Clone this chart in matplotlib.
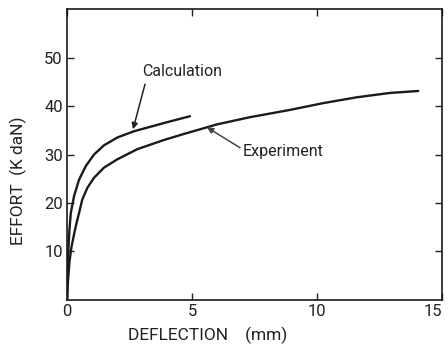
import matplotlib
matplotlib.use("Agg")
import matplotlib.pyplot as plt

# values (deflection in mm, effort in K daN)
calcDeflection = [0.0, 0.02, 0.05, 0.09, 0.15, 0.28, 0.48, 0.75, 1.08, 1.48, 2.01, 2.68, 3.32, 3.88, 4.4, 4.92]
calcEffort = [0.0, 5.0, 10.0, 14.0, 17.9, 21.4, 24.8, 27.6, 30.0, 31.9, 33.5, 34.8, 35.7, 36.5, 37.2, 37.9]

expDeflection = [0.0, 0.04, 0.1, 0.18, 0.3, 0.4, 0.48, 0.61, 0.81, 1.08, 1.48, 2.01, 2.81, 3.88,
                 4.65, 5.99, 7.32, 8.92, 10.25, 11.59, 12.92, 14.05]
expEffort = [0.0, 4.0, 8.0, 11.0, 14.0, 16.3, 17.9, 20.7, 23.1, 25.2, 27.3, 29.0, 31.1, 33.0,
             34.2, 36.2, 37.7, 39.2, 40.6, 41.8, 42.7, 43.1]

xTicks = [0, 5, 10, 15]
yTicks = [10, 20, 30, 40, 50]

plt.rcParams['font.family'] = ['Roboto', 'DejaVu Sans']

fig = plt.figure(figsize=(4.48, 3.48), dpi=100)
ax = fig.add_axes([0.1496, 0.138, 0.837, 0.836])

ax.plot(calcDeflection, calcEffort, color='#1a1a1a', linewidth=1.7,
        solid_joinstyle='round', solid_capstyle='round')
ax.plot(expDeflection, expEffort, color='#1a1a1a', linewidth=1.7,
        solid_joinstyle='round', solid_capstyle='round')

ax.text(4.6, 47.2, "Calculation", ha='center', va='center', fontsize=11.5, color='#222222')
ax.annotate("", xy=(2.64, 35.2), xytext=(3.12, 44.5),
            arrowprops=dict(arrowstyle='-|>', color='#222222', lw=1.1,
                            mutation_scale=9, shrinkA=0, shrinkB=0))
ax.text(8.64, 30.6, "Experiment", ha='center', va='center', fontsize=11.5, color='#222222')
ax.annotate("", xy=(5.6, 35.6), xytext=(6.92, 31.4),
            arrowprops=dict(arrowstyle='-|>', color='#444444', lw=1.1,
                            mutation_scale=9, shrinkA=0, shrinkB=0))

ax.set_xlim(0, 15)
ax.set_ylim(0, 60)
ax.set_xticks(xTicks)
ax.set_yticks(yTicks)
ax.tick_params(direction='in', length=5, width=1.0, labelsize=12,
               top=True, right=True, colors='#222222')
ax.tick_params(axis='x', pad=3)
ax.tick_params(axis='y', pad=3)
ax.get_xticklabels()[-1].set_horizontalalignment('right')
for side in ax.spines.values():
    side.set_linewidth(1.2)
    side.set_color('#1a1a1a')

ax.text(0.376, -0.121, "DEFLECTION    (mm)", transform=ax.transAxes,
        ha='center', va='center', fontsize=12.5, color='#222222')
ax.text(-0.131, 0.409, "EFFORT  (K daN)", transform=ax.transAxes,
        rotation=90, ha='center', va='center', fontsize=12.5, color='#222222')

plt.savefig("out.png", dpi=100)
